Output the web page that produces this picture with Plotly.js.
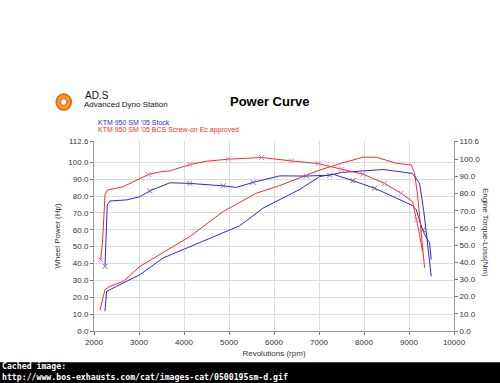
<!DOCTYPE html>
<html>
<head>
<meta charset="utf-8">
<script src="https://cdn.plot.ly/plotly-3.0.1.min.js"></script>
<style>
html,body{margin:0;padding:0;background:#fff;}
#chart{width:500px;height:383px;}
</style>
</head>
<body>
<div id="chart"></div>
<script>
// ---- data ----
const stockPowerRpm = [2244, 2281, 2503, 3021, 3538, 4130, 4870, 5240, 5757, 6128, 6572, 7016, 7311, 7755, 8236, 8643, 9013, 9080, 9161, 9235, 9301, 9380, 9457, 9494];
const stockPowerHp  = [11.7, 23.5, 26.5, 33.4, 43.3, 49.8, 58.0, 62.4, 72.8, 78.0, 83.9, 91.5, 92.9, 89.1, 84.6, 79.7, 74.8, 74.3, 71.8, 65.9, 60.0, 55.5, 52.3, 42.3];

const stockTorqueRpm = [2244, 2270, 2281, 2295, 2355, 2725, 3021, 3243, 3687, 4130, 4870, 5167, 5535, 6128, 6720, 7237, 7497, 7977, 8421, 8718, 9080, 9235, 9324, 9390, 9435, 9494];
const stockTorqueNm  = [37.6, 55.0, 63.0, 73.4, 75.7, 76.3, 78.2, 81.6, 86.3, 85.9, 84.5, 83.6, 86.5, 90.3, 90.2, 90.7, 92.3, 93.2, 94.0, 93.0, 91.7, 85.9, 70.5, 56.0, 44.4, 31.8];

const bcsPowerRpm = [2133, 2244, 2355, 2650, 3021, 3391, 4130, 4870, 5611, 6128, 6350, 7016, 7497, 7977, 8274, 8718, 9050, 9124, 9190, 9257, 9346];
const bcsPowerHp  = [12.3, 24.5, 26.5, 29.4, 38.3, 44.2, 56.0, 70.8, 81.7, 86.2, 88.5, 95.4, 99.4, 103.0, 103.0, 99.4, 98.4, 93.5, 80.7, 60.0, 37.5];

const bcsTorqueRpm = [2149, 2193, 2244, 2295, 2650, 3021, 3206, 3465, 3687, 4130, 4500, 4980, 5722, 6387, 6978, 7497, 7977, 8458, 8829, 9080, 9168, 9235, 9301];
const bcsTorqueNm  = [41.5, 53.0, 79.2, 82.0, 84.0, 88.8, 91.1, 92.6, 93.2, 96.9, 98.8, 100.0, 101.0, 99.0, 97.5, 94.2, 91.3, 85.9, 80.1, 75.3, 64.7, 56.0, 46.3];

// marker points (x symbols on the curves)
const stockTorqueMarkRpm = [2244, 3243, 4130, 4870, 5535, 6720, 7237];
const stockTorqueMarkNm  = [37.6, 81.6, 85.9, 84.5, 86.5, 90.2, 90.7];
const stockPowerMarkRpm  = [7755, 8236, 9309];
const stockPowerMarkHp   = [89.1, 84.6, 60.0];
const bcsTorqueMarkRpm   = [2149, 3206, 4130, 4980, 5722, 6387, 6978, 7497, 7977, 8458, 8829, 9168];
const bcsTorqueMarkNm    = [41.5, 91.1, 96.9, 100.0, 101.0, 99.0, 97.5, 94.2, 91.3, 85.9, 80.1, 64.7];

const xTicks = [2000, 3000, 4000, 5000, 6000, 7000, 8000, 9000, 10000];
const leftTicks = [0, 10, 20, 30, 40, 50, 60, 70, 80, 90, 100, 112.6];
const rightTicks = [0, 10, 20, 30, 40, 50, 60, 70, 80, 90, 100, 110.6];

const legendStock = "KTM 950 SM '05 Stock";
const legendBcs = "KTM 950 SM '05 BCS Screw-on Ec approved";

// ---- styles ----
const BLUE = '#2a2ae0';
const RED = '#ff2a2a';

const traces = [
  {x: stockPowerRpm, y: stockPowerHp, mode: 'lines', line: {color: BLUE, width: 1}, yaxis: 'y'},
  {x: stockTorqueRpm, y: stockTorqueNm, mode: 'lines', line: {color: BLUE, width: 1}, yaxis: 'y2'},
  {x: bcsPowerRpm, y: bcsPowerHp, mode: 'lines', line: {color: RED, width: 1}, yaxis: 'y'},
  {x: bcsTorqueRpm, y: bcsTorqueNm, mode: 'lines', line: {color: RED, width: 1}, yaxis: 'y2'},
  {x: stockTorqueMarkRpm, y: stockTorqueMarkNm, mode: 'markers', yaxis: 'y2',
   marker: {symbol: 'x-thin-open', size: 5, line: {color: BLUE, width: 1}}},
  {x: stockPowerMarkRpm, y: stockPowerMarkHp, mode: 'markers', yaxis: 'y',
   marker: {symbol: 'x-thin-open', size: 5, line: {color: BLUE, width: 1}}},
  {x: bcsTorqueMarkRpm, y: bcsTorqueMarkNm, mode: 'markers', yaxis: 'y2',
   marker: {symbol: 'x-thin-open', size: 5, line: {color: RED, width: 1}}}
];

const tickFont = {family: 'Arial, Liberation Sans, sans-serif', size: 8, color: '#333'};

const layout = {
  width: 500, height: 383,
  paper_bgcolor: '#fff', plot_bgcolor: '#fff',
  showlegend: false,
  margin: {l: 94, r: 46, t: 141, b: 52},
  font: {family: 'Arial, Liberation Sans, sans-serif'},
  xaxis: {
    range: [2000, 10000], tickvals: xTicks, ticktext: xTicks.map(String),
    showgrid: true, gridcolor: '#dcdcdc', gridwidth: 1,
    showline: true, linecolor: '#999', linewidth: 1,
    ticks: 'outside', ticklen: 3, tickcolor: '#777',
    tickfont: tickFont, zeroline: false,
    title: {text: 'Revolutions (rpm)', font: {size: 8, color: '#333'}, standoff: 4}
  },
  yaxis: {
    range: [0, 112.6], tickvals: leftTicks, ticktext: leftTicks.map(v => v.toFixed(1)),
    showgrid: true, gridcolor: '#dcdcdc', gridwidth: 1,
    showline: true, linecolor: '#999', linewidth: 1,
    ticks: 'outside', ticklen: 3, tickcolor: '#777',
    tickfont: tickFont, zeroline: false,
    title: {text: 'Wheel Power (Hp)', font: {size: 8, color: '#333'}, standoff: 6}
  },
  yaxis2: {
    range: [0, 110.6], overlaying: 'y', side: 'right',
    tickvals: rightTicks, ticktext: rightTicks.map(v => v.toFixed(1)),
    showgrid: false, showline: true, linecolor: '#999', linewidth: 1,
    ticks: 'outside', ticklen: 3, tickcolor: '#777',
    tickfont: tickFont, zeroline: false
  },
  shapes: [
    {type: 'rect', xref: 'paper', yref: 'paper', x0: -0.3, x1: 1.2, y0: -0.58, y1: -0.165,
     fillcolor: '#000', line: {width: 0}},
    // logo swirl
    {type: 'circle', xref: 'paper', yref: 'paper', x0: -0.105, x1: -0.063, y0: 1.163, y1: 1.247,
     fillcolor: '#f59a23', line: {color: '#e0601a', width: 1.5}},
    {type: 'circle', xref: 'paper', yref: 'paper', x0: -0.093, x1: -0.075, y0: 1.187, y1: 1.223,
     fillcolor: '#ffffff', line: {color: '#e0601a', width: 1}}
  ],
  annotations: [
    {text: '<b>Power Curve</b>', xref: 'paper', yref: 'paper', x: 0.488, y: 1.208, xanchor: 'center', yanchor: 'middle',
     showarrow: false, font: {size: 13, color: '#000'}},
    {text: 'AD.S', xref: 'paper', yref: 'paper', x: -0.03, y: 1.242, xanchor: 'left', yanchor: 'middle',
     showarrow: false, font: {size: 10, color: '#111'}},
    {text: 'Advanced Dyno Station', xref: 'paper', yref: 'paper', x: -0.033, y: 1.19, xanchor: 'left', yanchor: 'middle',
     showarrow: false, font: {size: 8, color: '#111'}},
    {text: legendStock, xref: 'paper', yref: 'paper', x: 0.006, y: 1.095, xanchor: 'left', yanchor: 'middle',
     showarrow: false, font: {size: 7, color: BLUE}},
    {text: legendBcs, xref: 'paper', yref: 'paper', x: 0.006, y: 1.06, xanchor: 'left', yanchor: 'middle',
     showarrow: false, font: {size: 7, color: RED}},
    {text: 'Engine Torque-Loss(Nm)', xref: 'paper', yref: 'paper', x: 1.087, y: 0.52, xanchor: 'center', yanchor: 'middle',
     textangle: 90, showarrow: false, font: {size: 8, color: '#333'}},
    {text: '<b>Cached image:</b>', xref: 'paper', yref: 'paper', x: -0.261, y: -0.185, xanchor: 'left', yanchor: 'middle',
     showarrow: false, font: {family: 'DejaVu Sans Mono, monospace', size: 8.2, color: '#fff'}},
    {text: '<b>http://www.bos-exhausts.com/cat/images-cat/0500195sm-d.gif</b>', xref: 'paper', yref: 'paper', x: -0.261, y: -0.243,
     xanchor: 'left', yanchor: 'middle',
     showarrow: false, font: {family: 'DejaVu Sans Mono, monospace', size: 8.2, color: '#fff'}}
  ]
};

Plotly.newPlot('chart', traces, layout, {displayModeBar: false, staticPlot: true});
</script>
</body>
</html>
